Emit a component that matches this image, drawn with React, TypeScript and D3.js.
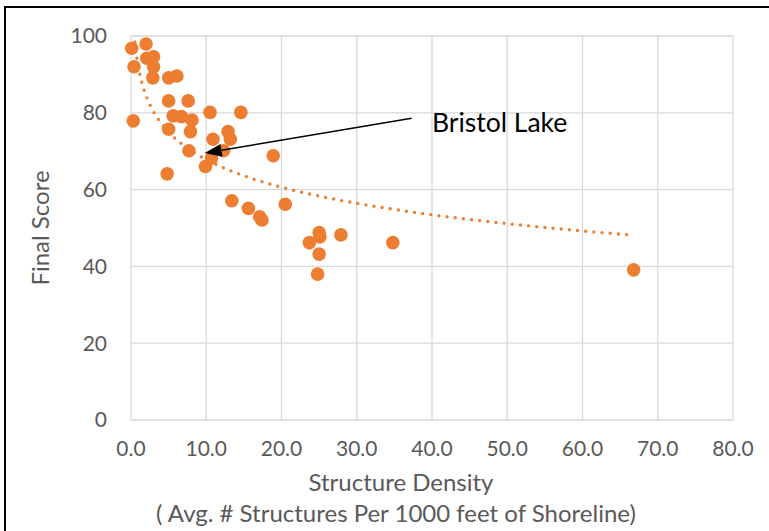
import { useRef, useEffect } from 'react';
import * as d3 from 'd3';

// Structure density (avg. # structures per 1000 ft of shoreline) vs final score
const DENSITY = [
  0.1, 2.0, 3.0, 2.1, 0.4, 3.0, 2.9, 5.0, 6.1, 5.0,
  7.6, 0.3, 5.6, 6.7, 8.1, 10.5, 14.6, 5.0, 7.9, 10.9,
  12.9, 13.2, 7.7, 12.3, 10.7, 9.9, 18.9, 4.8, 13.4, 15.6,
  17.1, 17.4, 20.5, 25.0, 25.1, 23.7, 25.0, 27.9, 24.8, 34.8,
  66.8,
];
const SCORE = [
  96.8, 97.9, 94.6, 94.2, 92.0, 92.0, 89.1, 89.1, 89.6, 83.1,
  83.1, 77.9, 79.2, 79.0, 78.1, 80.1, 80.1, 75.7, 75.1, 73.1,
  75.1, 73.1, 70.1, 70.1, 68.2, 66.0, 68.8, 64.1, 57.1, 55.1,
  52.9, 52.1, 56.2, 48.8, 47.7, 46.2, 43.2, 48.2, 38.0, 46.2,
  39.1,
];

const X_TICKS = [0, 10, 20, 30, 40, 50, 60, 70, 80];
const Y_TICKS = [0, 20, 40, 60, 80, 100];

// arrow annotation, in data units
const NOTE_LABEL = 'Bristol Lake';
const NOTE_FROM = [37.3, 78.6];
const NOTE_TO = [9.8, 69.5];
const NOTE_TEXT_AT = [40.0, 75.1];

const ORANGE = '#ED7D31';
const GRID = '#D9D9D9';
const TEXT = '#595959';
const FONT = 'Lato, Carlito, Calibri, sans-serif';

export default function App() {
  const ref = useRef<SVGSVGElement>(null);

  useEffect(() => {
    document.body.style.margin = '0';
    const svg = ref.current;
    if (!svg) return;
    const W = 769, H = 531;
    const padL = 131, padR = 36, padT = 36, padB = 111;

    d3.select(svg).selectAll('*').remove();
    const root = d3.select(svg).attr('viewBox', `0 0 ${W} ${H}`);
    root.append('rect').attr('width', W).attr('height', H).attr('fill', '#fff');

    const x = d3.scaleLinear().domain([0, 80]).range([padL, W - padR]);
    const y = d3.scaleLinear().domain([0, 100]).range([H - padB, padT]);

    // chart border (only top and left visible in the crop)
    root.append('path')
      .attr('d', `M5,${H + 5} L5,7 L${W + 5},7`)
      .attr('fill', 'none').attr('stroke', '#000').attr('stroke-width', 2);

    const g = root.append('g');

    // Grid
    X_TICKS.forEach((v) => {
      g.append('line').attr('x1', x(v)).attr('x2', x(v)).attr('y1', y(0)).attr('y2', y(100))
        .attr('stroke', GRID).attr('stroke-width', 1.3);
    });
    Y_TICKS.forEach((v) => {
      g.append('line').attr('x1', x(0)).attr('x2', x(80)).attr('y1', y(v)).attr('y2', y(v))
        .attr('stroke', GRID).attr('stroke-width', 1.3);
    });

    // tick labels
    Y_TICKS.forEach((v) => {
      g.append('text').attr('x', x(0) - 24).attr('y', y(v)).attr('dy', '0.35em')
        .attr('text-anchor', 'end').attr('font-size', 21).attr('font-family', FONT)
        .attr('fill', TEXT).text(v);
    });
    X_TICKS.forEach((v) => {
      g.append('text').attr('x', x(v)).attr('y', y(0) + 36)
        .attr('text-anchor', 'middle').attr('font-size', 21).attr('font-family', FONT)
        .attr('fill', TEXT).text(v.toFixed(1));
    });

    // axis titles
    g.append('text').attr('x', 401).attr('y', 491)
      .attr('text-anchor', 'middle').attr('font-size', 24).attr('font-family', FONT)
      .attr('fill', TEXT).text('Structure Density');
    g.append('text').attr('x', 396).attr('y', 522)
      .attr('text-anchor', 'middle').attr('font-size', 24).attr('font-family', FONT)
      .attr('fill', TEXT).text('( Avg. # Structures Per 1000 feet of Shoreline)');
    g.append('text').attr('transform', `translate(49,${(y(0) + y(100)) / 2}) rotate(-90)`)
      .attr('text-anchor', 'middle').attr('font-size', 24).attr('font-family', FONT)
      .attr('fill', TEXT).text('Final Score');

    // points
    DENSITY.forEach((d, i) => {
      g.append('circle').attr('cx', x(d)).attr('cy', y(SCORE[i])).attr('r', 6.8)
        .attr('fill', ORANGE);
    });

    // logarithmic trendline (least squares on ln x), clipped to plot area
    const lx = DENSITY.map((d) => Math.log(d));
    const mx = d3.mean(lx)!, my = d3.mean(SCORE)!;
    const b = d3.sum(lx, (v, i) => (v - mx) * (SCORE[i] - my)) / d3.sum(lx, (v) => (v - mx) ** 2);
    const a = my - b * mx;
    const [xmin, xmax] = d3.extent(DENSITY) as [number, number];
    const xs = d3.range(0, 401).map((k) => xmin * Math.pow(xmax / xmin, k / 400));
    root.append('clipPath').attr('id', 'plot-clip').append('rect')
      .attr('x', x(0)).attr('y', y(100)).attr('width', x(80) - x(0)).attr('height', y(0) - y(100));
    g.append('path')
      .attr('clip-path', 'url(#plot-clip)')
      .attr('d', d3.line<number>().x((v) => x(v)).y((v) => y(a + b * Math.log(v)))(xs))
      .attr('fill', 'none').attr('stroke', ORANGE).attr('stroke-width', 3.4)
      .attr('stroke-linecap', 'round').attr('stroke-dasharray', '0 8.2');

    // annotation arrow
    const x1 = x(NOTE_FROM[0]), y1 = y(NOTE_FROM[1]);
    const x2 = x(NOTE_TO[0]), y2 = y(NOTE_TO[1]);
    const ang = Math.atan2(y2 - y1, x2 - x1);
    const headL = 17, headW = 6.5;
    const bx = x2 - headL * Math.cos(ang), by = y2 - headL * Math.sin(ang);
    g.append('line').attr('x1', x1).attr('y1', y1).attr('x2', bx).attr('y2', by)
      .attr('stroke', '#000').attr('stroke-width', 1.5);
    g.append('path')
      .attr('d', `M${x2},${y2} L${bx + headW * Math.sin(ang)},${by - headW * Math.cos(ang)} L${bx - headW * Math.sin(ang)},${by + headW * Math.cos(ang)} Z`)
      .attr('fill', '#000');
    g.append('text').attr('x', x(NOTE_TEXT_AT[0])).attr('y', y(NOTE_TEXT_AT[1]))
      .attr('font-size', 26.5).attr('font-family', FONT).attr('fill', '#000').text(NOTE_LABEL);
  }, []);

  return <svg ref={ref} width={769} height={531} style={{ display: 'block' }} />;
}
